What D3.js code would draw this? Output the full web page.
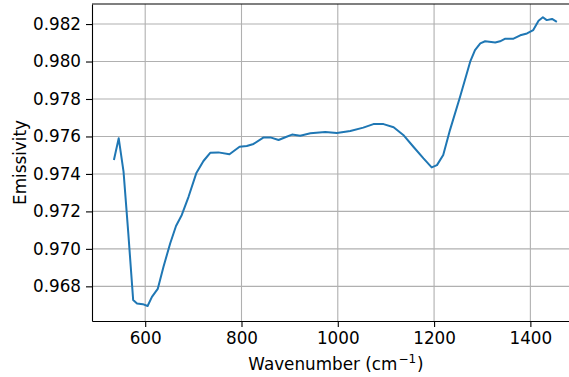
<!DOCTYPE html>
<html>
<head>
<meta charset="utf-8">
<script src="https://cdn.jsdelivr.net/npm/d3@7"></script>
<style>
  body { margin: 0; background: #fff; }
  svg { display: block; font-family: "DejaVu Sans", sans-serif; }
</style>
</head>
<body>
<div id="chart"></div>
<script>
const wavenumbers = [535, 545, 555, 565, 575, 583, 595, 605, 614, 626, 638, 652, 664, 676, 690, 706,
  721, 735, 752, 775, 796, 811, 825, 846, 860, 877, 891, 905, 922, 943, 974, 998, 1026, 1053,
  1074, 1095, 1116, 1136, 1157, 1178, 1195, 1206, 1219, 1233, 1254, 1275, 1285, 1296, 1306,
  1327, 1337, 1348, 1365, 1379, 1393, 1406, 1417, 1426, 1434, 1445, 1455];
const emissivity = [0.97474, 0.97590, 0.97412, 0.97080, 0.96727, 0.96709, 0.96705, 0.96695,
  0.96744, 0.96786, 0.96905, 0.97030, 0.97122, 0.97181, 0.97278, 0.97403, 0.97469, 0.97513,
  0.97515, 0.97505, 0.97545, 0.97549, 0.97560, 0.97595, 0.97595, 0.97581, 0.97596, 0.97610,
  0.97604, 0.97617, 0.97624, 0.97618, 0.97629, 0.97647, 0.97666, 0.97666, 0.97649, 0.97608,
  0.97545, 0.97483, 0.97435, 0.97447, 0.97501, 0.97634, 0.97812, 0.97999, 0.98061, 0.98097,
  0.98108, 0.98102, 0.98108, 0.98122, 0.98122, 0.98140, 0.98150, 0.98168, 0.98218, 0.98236,
  0.98221, 0.98227, 0.98212];
const xTicks = [600, 800, 1000, 1200, 1400];
const yTicks = [0.968, 0.970, 0.972, 0.974, 0.976, 0.978, 0.980, 0.982];

const width = 569, height = 377;
const plotL = 92, plotT = 4, plotR = 579, plotB = 321;
const fs = 16.8;

const svg = d3.select("#chart").append("svg")
  .attr("width", width).attr("height", height);

const x = d3.scaleLinear().domain([489.5, 1501]).range([plotL, plotR]);
const y = d3.scaleLinear().domain([0.96615, 0.98307]).range([plotB, plotT]);

// grid
svg.append("g")
  .selectAll("line")
  .data(xTicks)
  .join("line")
  .attr("x1", d => x(d)).attr("x2", d => x(d))
  .attr("y1", plotT).attr("y2", plotB)
  .attr("stroke", "#b0b0b0").attr("stroke-width", 1.1);
svg.append("g")
  .selectAll("line")
  .data(yTicks)
  .join("line")
  .attr("x1", plotL).attr("x2", plotR)
  .attr("y1", d => y(d)).attr("y2", d => y(d))
  .attr("stroke", "#b0b0b0").attr("stroke-width", 1.1);

// line
const pts = wavenumbers.map((w, i) => [w, emissivity[i]]);
svg.append("path")
  .datum(pts)
  .attr("fill", "none")
  .attr("stroke", "#1f77b4")
  .attr("stroke-width", 2)
  .attr("stroke-linejoin", "round")
  .attr("d", d3.line().x(d => x(d[0])).y(d => y(d[1])));

// axes
const xAxis = svg.append("g")
  .attr("transform", `translate(0,${plotB})`)
  .call(d3.axisBottom(x).tickValues(xTicks).tickFormat(d3.format("d")).tickSize(6).tickPadding(5).tickSizeOuter(0));
const yAxis = svg.append("g")
  .attr("transform", `translate(${plotL},0)`)
  .call(d3.axisLeft(y).tickValues(yTicks).tickFormat(d3.format(".3f")).tickSize(6).tickPadding(5).tickSizeOuter(0));
[xAxis, yAxis].forEach(g => {
  g.selectAll("text").attr("font-size", fs).attr("font-family", "DejaVu Sans").attr("fill", "#000");
  g.selectAll("line").attr("stroke", "#000").attr("stroke-width", 1.1);
  g.select(".domain").attr("stroke", "#000").attr("stroke-width", 1.1);
});

// top and right spines
svg.append("line")
  .attr("x1", plotL).attr("x2", plotR).attr("y1", plotT).attr("y2", plotT)
  .attr("stroke", "#000").attr("stroke-width", 1.1);
svg.append("line")
  .attr("x1", plotR).attr("x2", plotR).attr("y1", plotT).attr("y2", plotB)
  .attr("stroke", "#000").attr("stroke-width", 1.1);

// labels
const xl = svg.append("text")
  .attr("x", 336).attr("y", 370)
  .attr("text-anchor", "middle")
  .attr("font-size", fs)
  .text("Wavenumber (cm");
xl.append("tspan").attr("dy", -7).attr("dx", 1).attr("font-size", 12).text("\u22121");
xl.append("tspan").attr("dy", 7).attr("dx", 1).text(")");

svg.append("text")
  .attr("transform", `translate(26,${(plotT + plotB) / 2}) rotate(-90)`)
  .attr("text-anchor", "middle")
  .attr("font-size", fs)
  .text("Emissivity");
</script>
</body>
</html>
